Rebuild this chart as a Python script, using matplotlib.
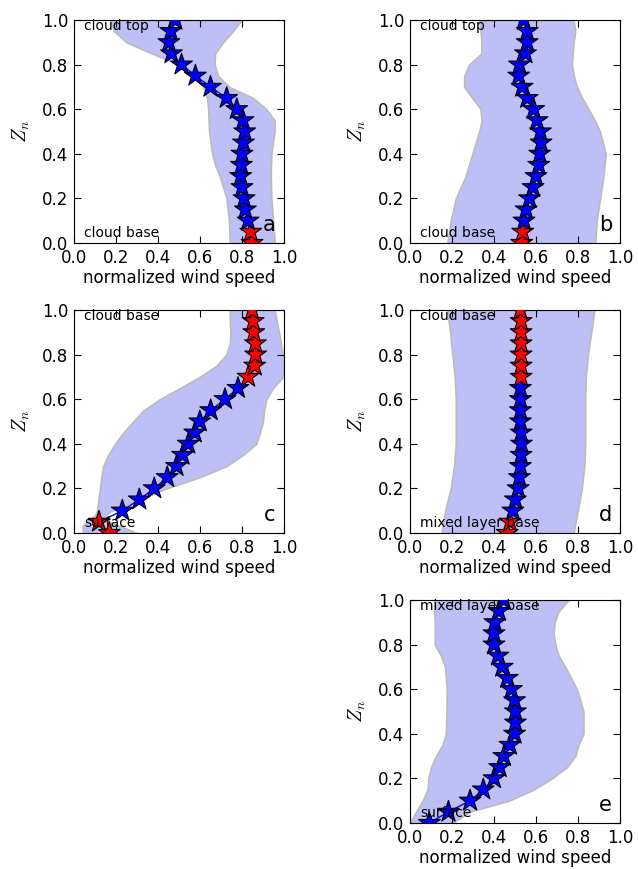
import numpy as np
import matplotlib
matplotlib.use("Agg")
import matplotlib.pyplot as plt

plt.rcParams["mathtext.fontset"] = "cm"

# ---- data ----
z = np.round(np.arange(0, 1.0001, 0.05), 2)

# panel a
a_speed = [0.848, 0.842, 0.829, 0.816, 0.810, 0.800, 0.794, 0.797, 0.800, 0.807, 0.813,
           0.805, 0.775, 0.727, 0.650, 0.578, 0.512, 0.464, 0.452, 0.461, 0.483]
a_red = [0, 1]
a_zb = [0.0, 0.1, 0.2, 0.3, 0.35, 0.4, 0.5, 0.55, 0.6, 0.65, 0.7, 0.75, 0.8, 0.85, 0.9, 0.95, 1.0]
a_lo = [0.742, 0.738, 0.726, 0.694, 0.672, 0.658, 0.643, 0.641, 0.639, 0.634, 0.615, 0.575,
        0.50, 0.37, 0.25, 0.19, 0.171]
a_hi = [0.956, 0.948, 0.94, 0.937, 0.938, 0.940, 0.955, 0.955, 0.916, 0.853, 0.74, 0.685,
        0.670, 0.672, 0.71, 0.757, 0.797]

# panel b
b_speed = [0.532, 0.537, 0.543, 0.553, 0.569, 0.586, 0.600, 0.613, 0.618, 0.624, 0.621,
           0.605, 0.589, 0.558, 0.534, 0.518, 0.521, 0.550, 0.558, 0.558, 0.542]
b_red = [0, 1]
b_zb = [0.0, 0.1, 0.2, 0.3, 0.4, 0.5, 0.55, 0.6, 0.65, 0.7, 0.75, 0.8, 0.85, 0.9, 0.95, 1.0]
b_lo = [0.178, 0.194, 0.218, 0.265, 0.297, 0.329, 0.341, 0.336, 0.297, 0.258, 0.258, 0.281,
        0.34, 0.34, 0.336, 0.329]
b_hi = [0.882, 0.889, 0.905, 0.921, 0.932, 0.905, 0.88, 0.85, 0.82, 0.795, 0.78, 0.771,
        0.775, 0.779, 0.787, 0.779]

# panel c
c_speed = [0.168, 0.119, 0.230, 0.311, 0.382, 0.444, 0.488, 0.517, 0.544, 0.575, 0.599,
           0.651, 0.719, 0.781, 0.829, 0.861, 0.865, 0.864, 0.856, 0.853, 0.848]
c_red = [0, 1, 14, 15, 16, 17, 18, 19, 20]
c_zb = [0.0, 0.03, 0.05, 0.08, 0.1, 0.15, 0.2, 0.25, 0.3, 0.35, 0.4, 0.45, 0.5, 0.55, 0.6,
        0.65, 0.7, 0.75, 0.8, 0.85, 0.9, 0.95, 1.0]
c_lo = [0.044, 0.040, 0.060, 0.10, 0.11, 0.116, 0.124, 0.13, 0.139, 0.163, 0.195, 0.235,
        0.282, 0.330, 0.409, 0.504, 0.599, 0.678, 0.726, 0.742, 0.745, 0.742, 0.742]
c_hi = [0.30, 0.22, 0.17, 0.15, 0.18, 0.314, 0.44, 0.599, 0.726, 0.805, 0.868, 0.885, 0.9,
        0.905, 0.916, 0.948, 0.995, 1.0, 0.995, 0.985, 0.976, 0.965, 0.956]

# panel d
d_speed = [0.463, 0.476, 0.490, 0.502, 0.515, 0.521, 0.526, 0.529, 0.531, 0.529, 0.526,
           0.526, 0.526, 0.526, 0.529, 0.529, 0.529, 0.529, 0.529, 0.529, 0.526]
d_red = [0, 1, 14, 15, 16, 17, 18, 19, 20]
d_zb = [0.0, 0.1, 0.2, 0.3, 0.4, 0.5, 0.6, 0.7, 0.8, 0.9, 1.0]
d_lo = [0.15, 0.167, 0.194, 0.21, 0.218, 0.218, 0.218, 0.213, 0.202, 0.191, 0.178]
d_hi = [0.779, 0.799, 0.818, 0.830, 0.834, 0.834, 0.834, 0.837, 0.847, 0.863, 0.878]

# panel e
e_speed = [0.092, 0.183, 0.286, 0.349, 0.400, 0.427, 0.447, 0.476, 0.498, 0.502, 0.502,
           0.498, 0.483, 0.463, 0.439, 0.419, 0.400, 0.400, 0.404, 0.423, 0.447]
e_red = []
e_zb = [0.0, 0.05, 0.1, 0.15, 0.2, 0.25, 0.3, 0.35, 0.4, 0.5, 0.6, 0.7, 0.75, 0.8, 0.85,
        0.9, 0.95, 1.0]
e_lo = [0.0, 0.028, 0.06, 0.084, 0.087, 0.10, 0.123, 0.155, 0.171, 0.174, 0.175, 0.167,
        0.147, 0.118, 0.118, 0.118, 0.115, 0.115]
e_hi = [0.202, 0.281, 0.471, 0.589, 0.676, 0.747, 0.787, 0.802, 0.826, 0.826, 0.795, 0.739,
        0.708, 0.692, 0.684, 0.689, 0.708, 0.755]

panels = [
    ("a", a_speed, a_red, a_zb, a_lo, a_hi, "cloud top", "cloud base"),
    ("b", b_speed, b_red, b_zb, b_lo, b_hi, "cloud top", "cloud base"),
    ("c", c_speed, c_red, c_zb, c_lo, c_hi, "cloud base", "surface"),
    ("d", d_speed, d_red, d_zb, d_lo, d_hi, "cloud base", "mixed layer base"),
    ("e", e_speed, e_red, e_zb, e_lo, e_hi, "mixed layer base", "surface"),
]

# axes corners in pixels (left, top)
W, H = 638, 869
boxes = {
    "a": (74, 20), "b": (410, 20),
    "c": (74, 310), "d": (410, 310),
    "e": (410, 600),
}
aw, ah = 210, 223

fig = plt.figure(figsize=(W / 100, H / 100), dpi=100)

for letter, speed, red, zb, lo, hi, top_txt, bot_txt in panels:
    x0, y0 = boxes[letter]
    ax = fig.add_axes([x0 / W, 1 - (y0 + ah) / H, aw / W, ah / H])
    ax.fill_betweenx(zb, lo, hi, facecolor=(0.75, 0.75, 0.97), edgecolor="#bbbbbb", lw=1.2)
    ax.plot(speed, z, "-", color="b", lw=1)
    cols = ["r" if i in red else "b" for i in range(len(z))]
    ax.scatter(speed, z, marker="*", s=270, c=cols, edgecolors="k", linewidths=0.8, zorder=3)
    ax.set_xlim(0, 1)
    ax.set_ylim(0, 1)
    ax.set_xticks(np.arange(0, 1.01, 0.2))
    ax.set_yticks(np.arange(0, 1.01, 0.2))
    ax.tick_params(direction="in", top=True, right=True, labelsize=12, length=5, pad=4)
    ax.set_xlabel("normalized wind speed", fontsize=12, labelpad=2)
    ax.set_ylabel("$Z_n$", fontsize=14, labelpad=7)
    ax.text(0.05, 0.975, top_txt, transform=ax.transAxes, fontsize=10, va="center",
            ha="left", zorder=5)
    ax.text(0.05, 0.045, bot_txt, transform=ax.transAxes, fontsize=10, va="center",
            ha="left", zorder=5)
    ax.text(0.93, 0.08, letter, transform=ax.transAxes, fontsize=15, va="center",
            ha="center", zorder=5)

fig.savefig("out.png", dpi=100)
